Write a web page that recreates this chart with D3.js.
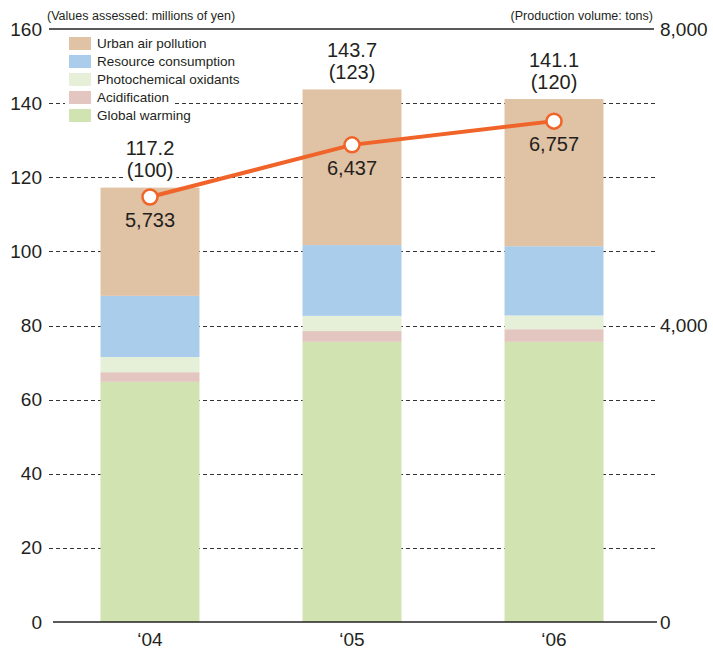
<!DOCTYPE html>
<html>
<head>
<meta charset="utf-8">
<script src="https://cdn.jsdelivr.net/npm/d3@7"></script>
<style>
  html, body { margin: 0; padding: 0; background: #fff; }
  svg { display: block; font-family: "Liberation Sans", Arial, sans-serif; }
</style>
</head>
<body>
<svg id="chart" width="713" height="653"></svg>
<script>
// Fiscal years
const years = ["‘04", "‘05", "‘06"];

// Environmental impact, stacked bottom to top (millions of yen)
const globalWarming = [64.8, 75.6, 75.6];
const acidification = [2.6, 2.9, 3.4];
const photochemical = [4.1, 4.1, 3.7];
const resourceUse = [16.5, 19.1, 18.7];
const urbanAir = [29.2, 42.0, 39.7];

// Totals and index (FY2004 = 100)
const totals = [117.2, 143.7, 141.1];
const indexLabels = ["(100)", "(123)", "(120)"];

// Production volume (tons)
const production = [5733, 6437, 6757];

const leftTicks = [0, 20, 40, 60, 80, 100, 120, 140, 160];
const rightTicks = [0, 4000, 8000];

const seriesNames = ["Global warming", "Acidification", "Photochemical oxidants", "Resource consumption", "Urban air pollution"];
const seriesColors = ["#d1e3b1", "#e3c6c0", "#e6efd7", "#abcdec", "#e0c2a5"];
const seriesValues = [globalWarming, acidification, photochemical, resourceUse, urbanAir];

const svg = d3.select("#chart");
const ink = "#231f20";

const y = d3.scaleLinear().domain([0, 160]).range([622, 29]);
const y2 = d3.scaleLinear().domain([0, 8000]).range([622, 29]);
const x = d3.scaleBand().domain(years).range([50, 654]).paddingInner(0.51).paddingOuter(0.25);

// Dashed grid lines
svg.append("g")
  .selectAll("line")
  .data(leftTicks.filter(d => d > 0 && d < 160))
  .join("line")
  .attr("x1", 49).attr("x2", 655)
  .attr("y1", d => Math.round(y(d)) + 0.5).attr("y2", d => Math.round(y(d)) + 0.5)
  .attr("stroke", "#333").attr("stroke-width", 1)
  .attr("stroke-dasharray", "4,3");

// Stacked bars
const rows = years.map((yr, i) => {
  const o = { year: yr };
  seriesNames.forEach((n, k) => o[n] = seriesValues[k][i]);
  return o;
});
const stack = d3.stack().keys(seriesNames)(rows);

svg.append("g")
  .selectAll("g")
  .data(stack)
  .join("g")
  .attr("fill", (d, k) => seriesColors[k])
  .selectAll("rect")
  .data(d => d)
  .join("rect")
  .attr("x", d => x(d.data.year))
  .attr("width", x.bandwidth())
  .attr("y", d => y(d[1]))
  .attr("height", d => y(d[0]) - y(d[1]));

// Top frame line and baseline
svg.append("line").attr("x1", 49).attr("x2", 654).attr("y1", 29).attr("y2", 29)
  .attr("stroke", "#222").attr("stroke-width", 1.3);
svg.append("line").attr("x1", 53).attr("x2", 657).attr("y1", 622).attr("y2", 622)
  .attr("stroke", "#222").attr("stroke-width", 1.3);

// Left axis labels
const leftAxis = svg.append("g")
  .attr("transform", "translate(42,0)")
  .call(d3.axisLeft(y).tickValues(leftTicks).tickSize(0).tickPadding(0));
leftAxis.select(".domain").remove();
leftAxis.selectAll("text")
  .attr("font-size", 19).attr("fill", ink)
  .attr("font-family", "Liberation Sans, Arial, sans-serif");

// Right axis labels
const rightAxis = svg.append("g")
  .attr("transform", "translate(660,0)")
  .call(d3.axisRight(y2).tickValues(rightTicks).tickSize(0).tickPadding(0).tickFormat(d3.format(",")));
rightAxis.select(".domain").remove();
rightAxis.selectAll("text")
  .attr("font-size", 19).attr("fill", ink)
  .attr("font-family", "Liberation Sans, Arial, sans-serif");

// Category axis
const bottomAxis = svg.append("g")
  .attr("transform", "translate(0,632)")
  .call(d3.axisBottom(x).tickSize(0).tickPadding(0));
bottomAxis.select(".domain").remove();
bottomAxis.selectAll("text")
  .attr("font-size", 19).attr("fill", ink)
  .attr("dy", "0.75em")
  .attr("font-family", "Liberation Sans, Arial, sans-serif");

// Axis captions
svg.append("text").attr("x", 47).attr("y", 20)
  .attr("font-size", 12.5).attr("fill", ink)
  .text("(Values assessed: millions of yen)");
svg.append("text").attr("x", 653).attr("y", 20).attr("text-anchor", "end")
  .attr("font-size", 12.5).attr("fill", ink)
  .text("(Production volume: tons)");

// Text with a white backing so grid lines do not run through it
function backedText(g, tx, ty, str, size, pad) {
  const bg = g.append("rect").attr("fill", "#fff");
  const t = g.append("text").attr("x", tx).attr("y", ty)
    .attr("text-anchor", "middle").attr("font-size", size).attr("fill", ink).text(str);
  const b = t.node().getBBox();
  bg.attr("x", b.x - pad).attr("y", b.y).attr("width", b.width + 2 * pad).attr("height", b.height);
}

// Total and index labels above bars
const cx = d => x(d) + x.bandwidth() / 2;
const labelLayer = svg.append("g");
years.forEach((yr, i) => {
  backedText(labelLayer, cx(yr), y(totals[i]) - 32.5, totals[i].toFixed(1), 20, 3);
  backedText(labelLayer, cx(yr), y(totals[i]) - 10.5, indexLabels[i], 20, 3);
});

// Production volume line
const line = d3.line().x((d, i) => cx(years[i])).y(d => y2(d));
svg.append("path")
  .datum(production)
  .attr("d", line)
  .attr("fill", "none")
  .attr("stroke", "#f0642a")
  .attr("stroke-width", 4);
svg.append("g").selectAll("circle")
  .data(production)
  .join("circle")
  .attr("cx", (d, i) => cx(years[i]))
  .attr("cy", d => y2(d))
  .attr("r", 7.5)
  .attr("fill", "#fff")
  .attr("stroke", "#f0642a")
  .attr("stroke-width", 2.5);
svg.append("g").selectAll("text")
  .data(production)
  .join("text")
  .attr("x", (d, i) => cx(years[i]))
  .attr("y", d => y2(d) + 30)
  .attr("text-anchor", "middle")
  .attr("font-size", 20).attr("fill", ink)
  .text(d => d3.format(",")(d));

// Legend (top to bottom, reverse of stack order)
const legend = svg.append("g");
const legendItems = seriesNames.map((n, k) => ({ name: n, color: seriesColors[k] })).reverse();
legendItems.forEach((it, i) => {
  const ly = 37 + i * 18;
  const bg = legend.append("rect").attr("fill", "#fff");
  legend.append("rect").attr("x", 69).attr("y", ly).attr("width", 22).attr("height", 13).attr("fill", it.color);
  const t = legend.append("text").attr("x", 97).attr("y", ly + 11)
    .attr("font-size", 13.5).attr("fill", ink).text(it.name);
  const b = t.node().getBBox();
  bg.attr("x", 65).attr("y", ly - 2).attr("width", b.x + b.width + 3 - 65).attr("height", 17);
});
</script>
</body>
</html>
